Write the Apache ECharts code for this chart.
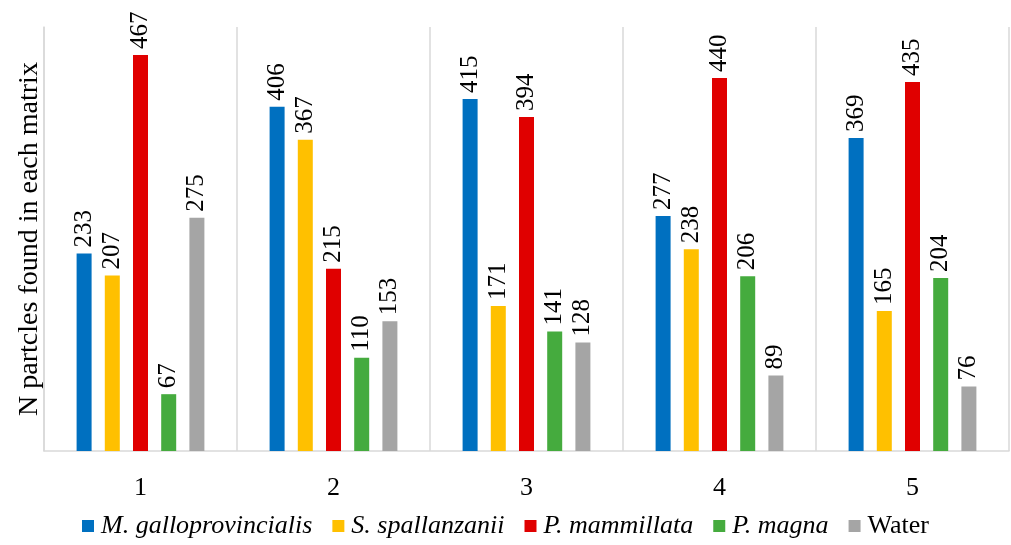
<!DOCTYPE html>
<html>
<head>
<meta charset="utf-8">
<script src="https://cdn.jsdelivr.net/npm/echarts@6/dist/echarts.min.js"></script>
<style>
  html, body { margin: 0; padding: 0; background: #fff; }
  #chart { width: 1011px; height: 545px; }
</style>
</head>
<body>
<div id="chart"></div>
<script>
// Particle counts per matrix, per sampling group
const categories = ['1', '2', '3', '4', '5'];
const seriesNames = ['M. galloprovincialis', 'S. spallanzanii', 'P. mammillata', 'P. magna', 'Water'];
const mGalloprovincialis = [233, 406, 415, 277, 369];
const sSpallanzanii = [207, 367, 171, 238, 165];
const pMammillata = [467, 215, 394, 440, 435];
const pMagna = [67, 110, 141, 206, 204];
const water = [275, 153, 128, 89, 76];

const values = [mGalloprovincialis, sSpallanzanii, pMammillata, pMagna, water];
const colors = ['#0070C0', '#FFC000', '#E00000', '#45AB3E', '#A5A5A5'];
const FONT = '"Liberation Serif", "Times New Roman", serif';
const GRID_COLOR = '#D9D9D9';

const chart = echarts.init(document.getElementById('chart'), null, { renderer: 'canvas' });

chart.setOption({
  animation: false,
  backgroundColor: '#fff',
  grid: { left: 44, right: 2, top: 27, bottom: 94 },
  legend: {
    bottom: 1,
    left: 'center',
    icon: 'rect',
    itemWidth: 12,
    itemHeight: 12,
    itemGap: 20,
    textStyle: { fontFamily: FONT, fontSize: 26, color: '#000', padding: [0, 0, 0, 2] },
    data: seriesNames.map((n, i) => ({
      name: n,
      textStyle: { fontStyle: i < 4 ? 'italic' : 'normal' }
    }))
  },
  xAxis: {
    type: 'category',
    data: categories,
    axisLine: { show: true, lineStyle: { color: GRID_COLOR, width: 1.5 } },
    axisTick: { show: false },
    axisLabel: { fontFamily: FONT, fontSize: 26, color: '#000', margin: 24 },
    splitLine: { show: true, lineStyle: { color: GRID_COLOR, width: 1.5 } }
  },
  yAxis: {
    type: 'value',
    min: 0,
    max: 500,
    name: 'N partcles found in each matrix',
    nameLocation: 'middle',
    nameGap: 0,
    nameTextStyle: { fontFamily: FONT, fontSize: 28, color: '#000' },
    axisLine: { show: true, lineStyle: { color: GRID_COLOR, width: 1.5 } },
    axisTick: { show: false },
    axisLabel: { show: false },
    splitLine: { show: false }
  },
  series: seriesNames.map((n, i) => ({
    name: n,
    type: 'bar',
    data: values[i],
    barWidth: 15,
    barGap: '88%',
    itemStyle: { color: colors[i] },
    label: {
      show: true,
      position: 'top',
      rotate: 90,
      align: 'left',
      verticalAlign: 'middle',
      distance: 6,
      fontFamily: FONT,
      fontSize: 25,
      color: '#000'
    }
  }))
});
</script>
</body>
</html>
